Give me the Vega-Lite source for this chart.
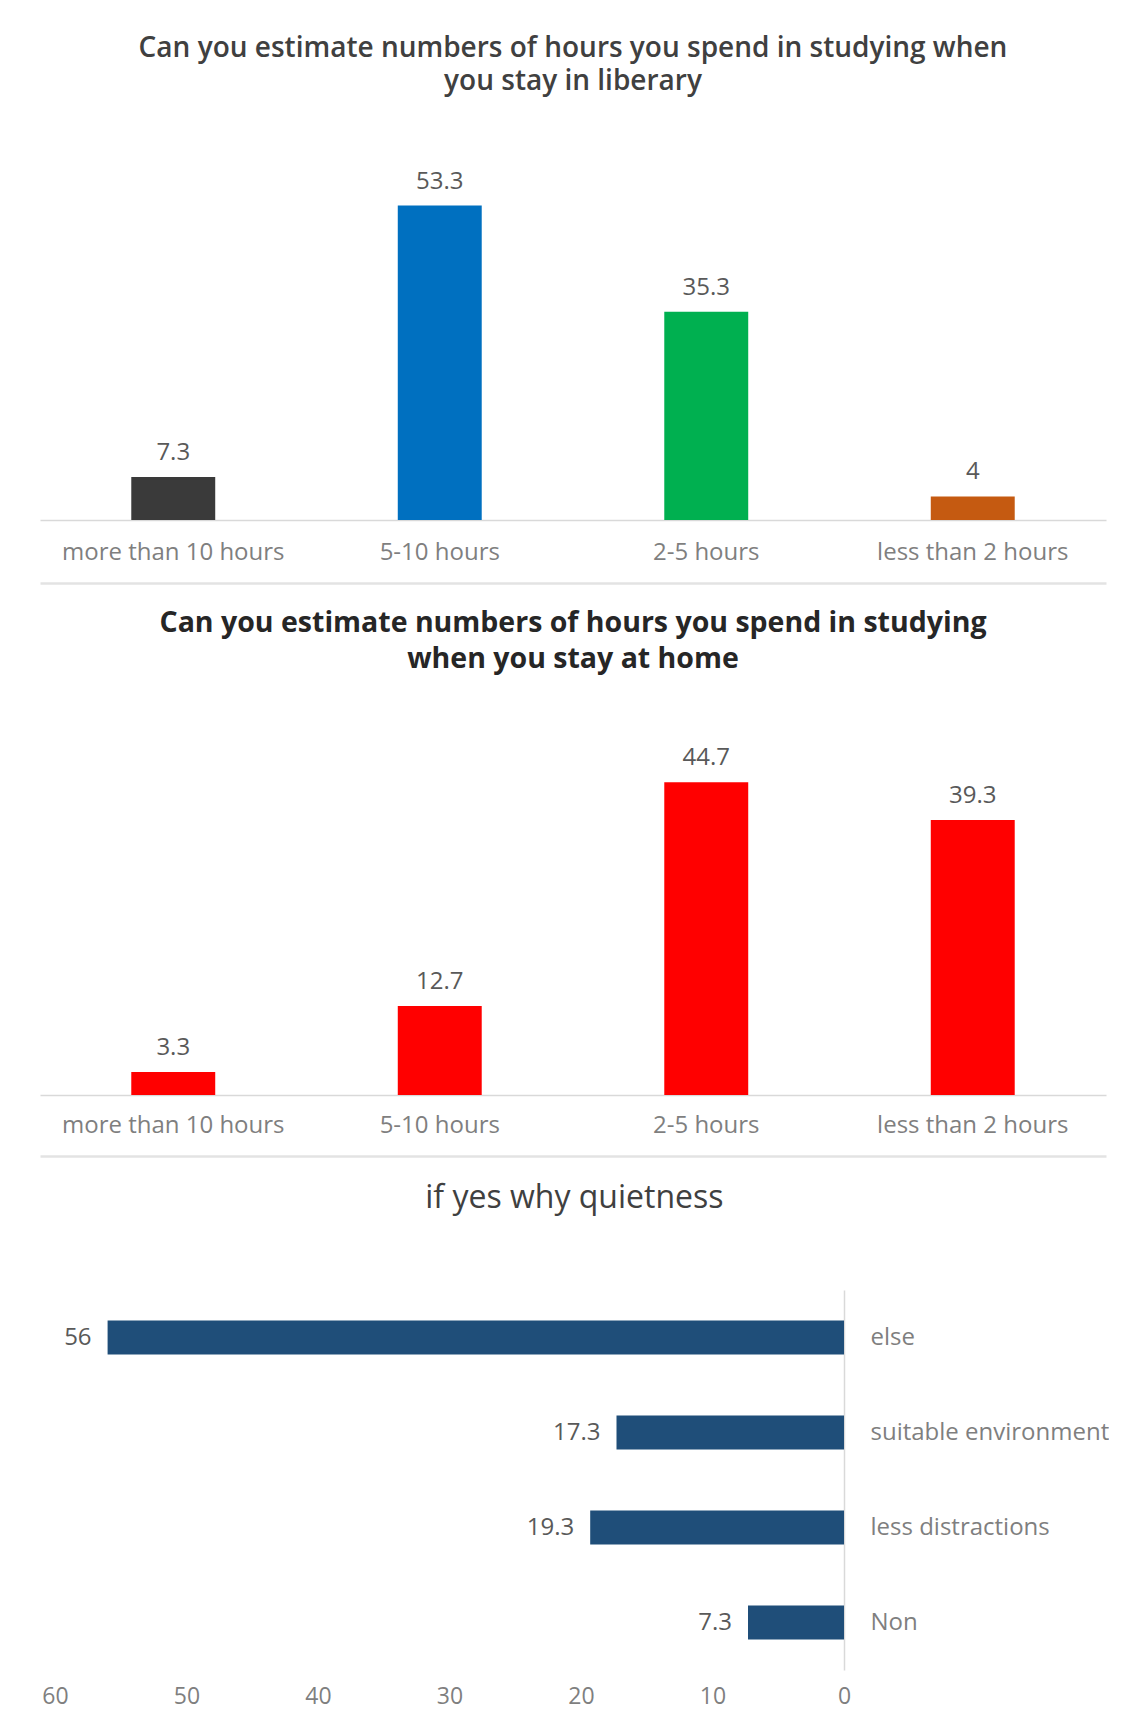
{
  "$schema": "https://vega.github.io/schema/vega-lite/v6.json",
  "padding": {"left": 40, "top": 35, "right": 0, "bottom": 0},
  "background": "white",
  "bounds": "flush",
  "spacing": 195,
  "config": {
    "view": {"stroke": null},
    "font": "Open Sans",
    "axis": {"grid": false, "ticks": false, "title": null, "labelFont": "Open Sans", "labelLimit": 400}
  },
  "datasets": {
    "library": [
      {"hours": "more than 10 hours", "pct": 7.3},
      {"hours": "5-10 hours", "pct": 53.3},
      {"hours": "2-5 hours", "pct": 35.3},
      {"hours": "less than 2 hours", "pct": 4}
    ],
    "home": [
      {"hours": "more than 10 hours", "pct": 3.3},
      {"hours": "5-10 hours", "pct": 12.7},
      {"hours": "2-5 hours", "pct": 44.7},
      {"hours": "less than 2 hours", "pct": 39.3}
    ],
    "why": [
      {"reason": "else", "pct": 56},
      {"reason": "suitable environment", "pct": 17.3},
      {"reason": "less distractions", "pct": 19.3},
      {"reason": "Non", "pct": 7.3}
    ]
  },
  "vconcat": [
    {
      "width": 1066,
      "height": 354,
      "data": {"name": "library"},
      "title": {
        "text": ["Can you estimate numbers of hours you spend in studying when", "you stay in liberary"],
        "fontSize": 28, "fontWeight": 600, "color": "#404040", "lineHeight": 33,
        "offset": 42, "baseline": "bottom", "anchor": "middle", "font": "Open Sans"
      },
      "encoding": {
        "y": {"field": "pct", "type": "quantitative", "scale": {"domain": [0, 60], "nice": false}, "axis": null}
      },
      "resolve": {"axis": {"x": "independent"}},
      "layer": [
        {
          "mark": {"type": "bar"},
          "encoding": {
            "x": {
              "field": "hours", "type": "nominal", "sort": null,
              "scale": {"paddingInner": 0.685, "paddingOuter": 0.3425},
              "axis": {"orient": "bottom", "labelAngle": 0, "labelFontSize": 24, "labelColor": "#7f7f7f", "labelPadding": 20, "domainColor": "#d9d9d9", "domainWidth": 1.5}
            },
            "color": {
              "field": "hours", "type": "nominal",
              "scale": {"domain": ["more than 10 hours", "5-10 hours", "2-5 hours", "less than 2 hours"], "range": ["#3a3a3a", "#0070C0", "#00B050", "#C55A11"]},
              "legend": null
            }
          }
        },
        {
          "mark": {"type": "text", "dy": -17, "baseline": "alphabetic", "fontSize": 24, "color": "#595959"},
          "encoding": {
            "x": {
              "field": "hours", "type": "nominal", "sort": null,
              "axis": {"orient": "bottom", "labels": false, "offset": 63, "domainColor": "#e3e3e3", "domainWidth": 2.5}
            },
            "text": {"field": "pct", "type": "quantitative"}
          }
        }
      ]
    },
    {
      "width": 1066,
      "height": 380,
      "data": {"name": "home"},
      "title": {
        "text": ["Can you estimate numbers of hours you spend in studying", "when you stay at home"],
        "fontSize": 28.5, "fontWeight": "bold", "color": "#262626", "lineHeight": 36,
        "offset": 13, "baseline": "bottom", "anchor": "middle", "font": "Open Sans"
      },
      "encoding": {
        "y": {"field": "pct", "type": "quantitative", "scale": {"domain": [0, 54.3], "nice": false}, "axis": null}
      },
      "resolve": {"axis": {"x": "independent"}},
      "layer": [
        {
          "mark": {"type": "bar", "color": "#FF0000"},
          "encoding": {
            "x": {
              "field": "hours", "type": "nominal", "sort": null,
              "scale": {"paddingInner": 0.685, "paddingOuter": 0.3425},
              "axis": {"orient": "bottom", "labelAngle": 0, "labelFontSize": 24, "labelColor": "#7f7f7f", "labelPadding": 18, "domainColor": "#d9d9d9", "domainWidth": 1.5}
            }
          }
        },
        {
          "mark": {"type": "text", "dy": -17, "baseline": "alphabetic", "fontSize": 24, "color": "#595959"},
          "encoding": {
            "x": {
              "field": "hours", "type": "nominal", "sort": null,
              "axis": {"orient": "bottom", "labels": false, "offset": 61, "domainColor": "#e3e3e3", "domainWidth": 2.5}
            },
            "text": {"field": "pct", "type": "quantitative"}
          }
        }
      ]
    },
    {
      "width": 804,
      "height": 380,
      "data": {"name": "why"},
      "title": {
        "text": "if yes why quietness",
        "fontSize": 32, "fontWeight": "normal", "color": "#404040",
        "offset": 43, "baseline": "bottom", "anchor": "middle", "frame": "bounds", "font": "Open Sans"
      },
      "encoding": {
        "y": {
          "field": "reason", "type": "nominal", "sort": null,
          "scale": {"paddingInner": 0.64, "paddingOuter": 0.32},
          "axis": {"orient": "right", "labelFontSize": 24, "labelColor": "#7f7f7f", "labelPadding": 26, "labelAlign": "left", "domainColor": "#d9d9d9", "domainWidth": 1.5}
        },
        "x": {
          "field": "pct", "type": "quantitative",
          "scale": {"domain": [0, 61.14], "reverse": true, "nice": false},
          "axis": {"values": [0, 10, 20, 30, 40, 50, 60], "domain": false, "labelFlush": false, "labelFontSize": 23, "labelColor": "#7f7f7f", "labelPadding": 15}
        }
      },
      "layer": [
        {"mark": {"type": "bar", "color": "#1F4E79"}},
        {
          "mark": {"type": "text", "align": "right", "dx": -16, "baseline": "middle", "fontSize": 24, "color": "#595959"},
          "encoding": {"text": {"field": "pct", "type": "quantitative"}}
        }
      ]
    }
  ]
}
